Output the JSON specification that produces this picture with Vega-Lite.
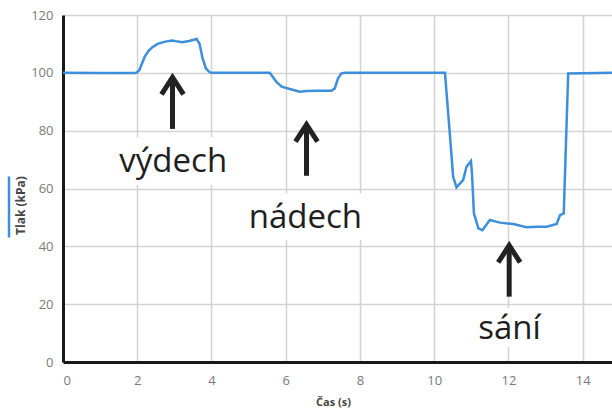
{
  "$schema": "https://vega.github.io/schema/vega-lite/v6.json",
  "width": 549,
  "height": 347,
  "autosize": {"type": "none"},
  "padding": {"left": 63, "top": 15, "right": 0, "bottom": 47},
  "background": "white",
  "config": {
    "view": {"stroke": null},
    "font": "Open Sans",
    "axis": {
      "domainColor": "#1a1a1a",
      "domainWidth": 3,
      "gridColor": "#d3d3d3",
      "gridWidth": 1.5,
      "ticks": false,
      "labelFont": "Open Sans",
      "labelFontSize": 13,
      "labelColor": "#7a7a7a",
      "labelPadding": 10,
      "titleFont": "Open Sans",
      "titleFontSize": 12,
      "titleFontWeight": "bold",
      "titleColor": "#444444"
    },
    "axisX": {"tickCount": 8, "titleX": 270, "titleY": 40, "titleFontSize": 11, "titleBaseline": "middle", "labelPadding": 12},
    "axisY": {"tickCount": 6, "titleX": -43, "titleY": 190, "titleAlign": "center", "titleBaseline": "middle", "titleAngle": -90}
  },
  "datasets": {
    "pressure": [
      {"t": 0, "p": 100}, {"t": 1.0, "p": 99.9}, {"t": 1.95, "p": 99.9}, {"t": 2.0, "p": 100.2},
      {"t": 2.06, "p": 101}, {"t": 2.12, "p": 103}, {"t": 2.2, "p": 105.5}, {"t": 2.3, "p": 107.5},
      {"t": 2.4, "p": 108.8}, {"t": 2.55, "p": 110}, {"t": 2.75, "p": 110.8}, {"t": 2.95, "p": 111.2},
      {"t": 3.1, "p": 110.8}, {"t": 3.2, "p": 110.6}, {"t": 3.4, "p": 111}, {"t": 3.6, "p": 111.7},
      {"t": 3.68, "p": 110}, {"t": 3.76, "p": 105}, {"t": 3.85, "p": 101.5}, {"t": 3.95, "p": 100.2},
      {"t": 4.0, "p": 100}, {"t": 5.57, "p": 100}, {"t": 5.75, "p": 96.9}, {"t": 5.89, "p": 95.2},
      {"t": 6.11, "p": 94.4}, {"t": 6.38, "p": 93.5}, {"t": 6.56, "p": 93.7}, {"t": 6.83, "p": 93.8},
      {"t": 7.23, "p": 93.8}, {"t": 7.32, "p": 94.6}, {"t": 7.41, "p": 98.1}, {"t": 7.5, "p": 99.8},
      {"t": 7.6, "p": 100}, {"t": 10.29, "p": 100}, {"t": 10.42, "p": 79.1}, {"t": 10.51, "p": 64.1},
      {"t": 10.6, "p": 60.4}, {"t": 10.78, "p": 62.9}, {"t": 10.87, "p": 67.5}, {"t": 10.99, "p": 69.5},
      {"t": 11.02, "p": 64.7}, {"t": 11.07, "p": 51.4}, {"t": 11.19, "p": 46.2}, {"t": 11.3, "p": 45.6},
      {"t": 11.5, "p": 49.1}, {"t": 11.77, "p": 48.2}, {"t": 12.13, "p": 47.7}, {"t": 12.49, "p": 46.6},
      {"t": 12.76, "p": 46.8}, {"t": 13.03, "p": 46.8}, {"t": 13.3, "p": 47.7}, {"t": 13.39, "p": 50.8},
      {"t": 13.49, "p": 51.4}, {"t": 13.61, "p": 99.8}, {"t": 14.79, "p": 100}
    ],
    "notes": [
      {"label": "výdech", "ax": 2.95, "apex": 98.4, "base": 80.6, "tx": 2.97, "ty": 65.8, "bx1": 1.2, "bx2": 4.8, "by1": 61.2, "by2": 77.7},
      {"label": "nádech", "ax": 6.56, "apex": 82.1, "base": 64.4, "tx": 6.53, "ty": 46.2, "bx1": 4.9, "bx2": 8.2, "by1": 42.2, "by2": 58.4},
      {"label": "sání", "ax": 12.02, "apex": 40.3, "base": 22.6, "tx": 12.03, "ty": 7.8, "bx1": 11.1, "bx2": 13.0, "by1": 5.2, "by2": 18.7}
    ]
  },
  "layer": [
    {
      "data": {"name": "notes"},
      "mark": {"type": "rect", "color": "white", "opacity": 1},
      "encoding": {
        "x": {"field": "bx1", "type": "quantitative", "title": "Čas (s)", "scale": {"domain": [0, 14.79], "nice": false}},
        "x2": {"field": "bx2"},
        "y": {"field": "by1", "type": "quantitative", "title": "Tlak (kPa)", "scale": {"domain": [0, 120], "nice": false}},
        "y2": {"field": "by2"}
      }
    },
    {
      "data": {"name": "pressure"},
      "mark": {"type": "line", "strokeWidth": 2.5, "clip": true},
      "encoding": {
        "x": {"field": "t", "type": "quantitative", "title": "Čas (s)", "scale": {"domain": [0, 14.79], "nice": false}},
        "y": {"field": "p", "type": "quantitative", "title": "Tlak (kPa)", "scale": {"domain": [0, 120], "nice": false}},
        "color": {
          "datum": "Tlak (kPa)",
          "scale": {"range": ["#3d8fdb"]},
          "legend": {
            "orient": "none",
            "legendX": -86,
            "legendY": 160,
            "title": null,
            "symbolType": "M0,-1L0,1",
            "symbolSize": 3721,
            "symbolStrokeWidth": 2.5,
            "labelExpr": "''",
            "padding": 0
          }
        }
      }
    },
    {
      "data": {"name": "notes"},
      "mark": {"type": "rule", "color": "#222222", "strokeWidth": 5, "strokeCap": "butt"},
      "encoding": {
        "x": {"field": "ax", "type": "quantitative", "title": "Čas (s)", "scale": {"domain": [0, 14.79], "nice": false}},
        "y": {"field": "base", "type": "quantitative", "title": "Tlak (kPa)", "scale": {"domain": [0, 120], "nice": false}},
        "y2": {"field": "apex"}
      }
    },
    {
      "data": {"name": "notes"},
      "mark": {"type": "point", "shape": "M-0.55,0.85L0,0L0.55,0.85", "size": 1600, "filled": false, "stroke": "#222222", "strokeWidth": 5, "strokeJoin": "miter", "opacity": 1},
      "encoding": {
        "x": {"field": "ax", "type": "quantitative", "title": "Čas (s)", "scale": {"domain": [0, 14.79], "nice": false}},
        "y": {"field": "apex", "type": "quantitative", "title": "Tlak (kPa)", "scale": {"domain": [0, 120], "nice": false}}
      }
    },
    {
      "data": {"name": "notes"},
      "mark": {"type": "text", "font": "Open Sans", "fontSize": 33, "color": "#1e1e1e", "align": "center", "baseline": "alphabetic"},
      "encoding": {
        "x": {"field": "tx", "type": "quantitative", "title": "Čas (s)", "scale": {"domain": [0, 14.79], "nice": false}},
        "y": {"field": "ty", "type": "quantitative", "title": "Tlak (kPa)", "scale": {"domain": [0, 120], "nice": false}},
        "text": {"field": "label"}
      }
    }
  ]
}
